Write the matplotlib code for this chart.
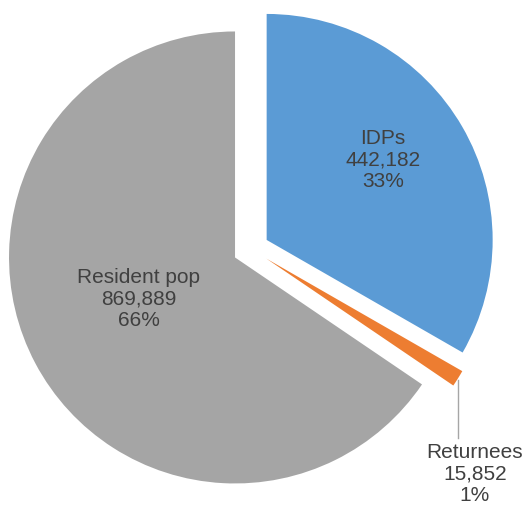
import matplotlib
matplotlib.use("Agg")
import matplotlib.pyplot as plt

# data
labels = ['IDPs', 'Returnees', 'Resident pop']
values = [442182, 15852, 869889]
colors = ['#5B9BD5', '#ED7D31', '#A5A5A5']

# label anchor points (data units, pie radius = 1)
label_pos = [(0.584, 0.394), (0.991, -0.996), (-0.496, -0.221)]

plt.rcParams['font.family'] = ['Liberation Sans', 'DejaVu Sans']

fig = plt.figure(figsize=(5.27, 5.07), dpi=100)
ax = fig.add_axes([0, 0, 1, 1])

total = sum(values)
ax.pie(values, colors=colors, startangle=90, counterclock=False,
       explode=[0.08] * len(values), radius=1,
       wedgeprops=dict(linewidth=0))

for lab, val, (x, y) in zip(labels, values, label_pos):
    pct = round(100 * val / total)
    ax.text(x, y, '%s\n%s\n%d%%' % (lab, format(val, ','), pct),
            ha='center', va='center', fontsize=15, color='#404040',
            linespacing=1.15)

# leader line for the small slice
ax.plot([0.916, 0.916], [-0.58, -0.836], color='#A6A6A6', lw=1)

ax.set_xlim(-251 / 226, (527 - 251) / 226)
ax.set_ylim(-(507 - 249) / 226, 249 / 226)
ax.set_aspect('auto')
ax.axis('off')

fig.savefig('out.png', dpi=100)
